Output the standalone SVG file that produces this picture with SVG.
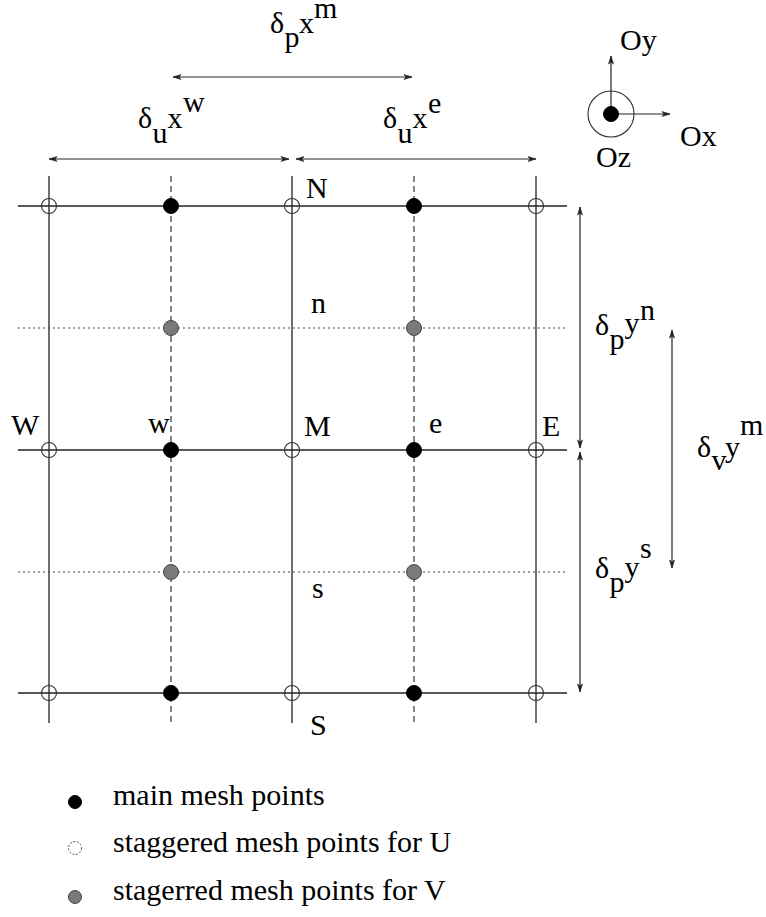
<svg xmlns="http://www.w3.org/2000/svg" width="766" height="917" viewBox="0 0 766 917">
<style>
  .solid { stroke:#222; stroke-width:1.3; fill:none; }
  .dash { stroke:#444; stroke-width:1.3; stroke-dasharray:6 4; fill:none; }
  .dot { stroke:#444; stroke-width:1.2; stroke-dasharray:2 3; fill:none; }
  .dim { stroke:#222; stroke-width:1.2; fill:none; marker-start:url(#ah); marker-end:url(#ah); }
  .ax { stroke:#222; stroke-width:1.2; fill:none; marker-end:url(#ah); }
  .open { fill:none; stroke:#333; stroke-width:1.1; }
  .main { fill:#000; stroke:#000; stroke-width:1; }
  .grey { fill:#7a7a7a; stroke:#444; stroke-width:1; }
  text { font-family:"Liberation Serif", "Times New Roman", serif; fill:#000; }
  .lbl { font-size:30px; }
  .leg { font-size:30px; }
</style>
<defs>
  <marker id="ah" viewBox="-9 -3 10 6" refX="0" refY="0" markerWidth="10" markerHeight="6" markerUnits="userSpaceOnUse" orient="auto-start-reverse">
    <path d="M-8,-2.5 L0,0 L-8,2.5 L-6,0 Z" fill="#222" stroke="#222" stroke-width="0.6"/>
  </marker>
</defs>

<g id="grid">
  <line class="solid" x1="49" y1="176" x2="49" y2="723"/>
  <line class="solid" x1="292" y1="176" x2="292" y2="723"/>
  <line class="solid" x1="536" y1="176" x2="536" y2="723"/>
  <line class="dash" x1="171" y1="176" x2="171" y2="723"/>
  <line class="dash" x1="414" y1="176" x2="414" y2="723"/>
  <line class="solid" x1="18" y1="206" x2="567" y2="206"/>
  <line class="solid" x1="18" y1="450" x2="567" y2="450"/>
  <line class="solid" x1="18" y1="693" x2="567" y2="693"/>
  <line class="dot" x1="18" y1="328" x2="565" y2="328"/>
  <line class="dot" x1="18" y1="572" x2="565" y2="572"/>
</g>

<g id="connectors">
  <line class="dim" x1="173" y1="77" x2="412" y2="77"/>
  <line class="dim" x1="49" y1="159" x2="289" y2="159"/>
  <line class="dim" x1="296" y1="159" x2="536" y2="159"/>
  <line class="dim" x1="580" y1="207" x2="580" y2="448"/>
  <line class="dim" x1="580" y1="452" x2="580" y2="692"/>
  <line class="dim" x1="672" y1="330" x2="672" y2="568"/>
</g>

<g id="axes">
  <circle class="open" cx="611" cy="114" r="23" stroke-width="1"/>
  <line class="ax" x1="611" y1="114" x2="611" y2="56"/>
  <line class="ax" x1="611" y1="114" x2="670" y2="114"/>
  <circle class="main" cx="611" cy="114" r="7.5"/>
  <text class="lbl" x="620" y="50">Oy</text>
  <text class="lbl" x="680" y="146">Ox</text>
  <text class="lbl" x="596" y="167">Oz</text>
</g>

<g id="u-points">
  <circle class="open" cx="49" cy="206" r="7.5"/>
  <circle class="open" cx="292" cy="206" r="7.5"/>
  <circle class="open" cx="536" cy="206" r="7.5"/>
  <circle class="open" cx="49" cy="450" r="7.5"/>
  <circle class="open" cx="292" cy="450" r="7.5"/>
  <circle class="open" cx="536" cy="450" r="7.5"/>
  <circle class="open" cx="49" cy="693" r="7.5"/>
  <circle class="open" cx="292" cy="693" r="7.5"/>
  <circle class="open" cx="536" cy="693" r="7.5"/>
</g>

<g id="main-points">
  <circle class="main" cx="171" cy="206" r="7.5"/>
  <circle class="main" cx="414" cy="206" r="7.5"/>
  <circle class="main" cx="171" cy="450" r="7.5"/>
  <circle class="main" cx="414" cy="450" r="7.5"/>
  <circle class="main" cx="171" cy="693" r="7.5"/>
  <circle class="main" cx="414" cy="693" r="7.5"/>
</g>

<g id="v-points">
  <circle class="grey" cx="171" cy="328" r="7.5"/>
  <circle class="grey" cx="414" cy="328" r="7.5"/>
  <circle class="grey" cx="171" cy="572" r="7.5"/>
  <circle class="grey" cx="414" cy="572" r="7.5"/>
</g>

<g id="labels">
  <text class="lbl" x="306" y="198">N</text>
  <text class="lbl" x="311" y="313">n</text>
  <text class="lbl" x="11" y="435">W</text>
  <text class="lbl" x="148" y="433">w</text>
  <text class="lbl" x="304" y="436">M</text>
  <text class="lbl" x="429" y="433">e</text>
  <text class="lbl" x="542" y="436">E</text>
  <text class="lbl" x="312" y="598">s</text>
  <text class="lbl" x="310" y="735">S</text>
</g>

<g id="dimension-labels">
  <text class="lbl"><tspan x="270" y="33">δ</tspan><tspan x="284.5" y="47">p</tspan><tspan x="299" y="33">x</tspan><tspan x="314" y="18">m</tspan></text>
  <text class="lbl"><tspan x="138" y="128">δ</tspan><tspan x="152.5" y="143">u</tspan><tspan x="167.5" y="128">x</tspan><tspan x="183" y="112">w</tspan></text>
  <text class="lbl"><tspan x="383" y="128">δ</tspan><tspan x="397.5" y="143">u</tspan><tspan x="412.5" y="128">x</tspan><tspan x="428" y="113">e</tspan></text>
  <text class="lbl"><tspan x="595" y="335">δ</tspan><tspan x="609.5" y="349">p</tspan><tspan x="624.5" y="333">y</tspan><tspan x="640" y="320">n</tspan></text>
  <text class="lbl"><tspan x="697" y="457">δ</tspan><tspan x="711.5" y="470">v</tspan><tspan x="725" y="457">y</tspan><tspan x="740" y="435">m</tspan></text>
  <text class="lbl"><tspan x="595" y="578">δ</tspan><tspan x="609.5" y="592">p</tspan><tspan x="624.5" y="577">y</tspan><tspan x="640" y="558">s</tspan></text>
</g>

<g id="legend">
  <circle class="main" cx="75" cy="802" r="6.5"/>
  <text class="leg" x="113" y="805">main mesh points</text>
  <circle cx="75" cy="848" r="6.5" fill="none" stroke="#555" stroke-width="1" stroke-dasharray="2 1.5"/>
  <text class="leg" x="113" y="852">staggered mesh points for U</text>
  <circle class="grey" cx="75" cy="897" r="6.5"/>
  <text class="leg" x="113" y="900">stagerred mesh points for V</text>
</g>
</svg>
